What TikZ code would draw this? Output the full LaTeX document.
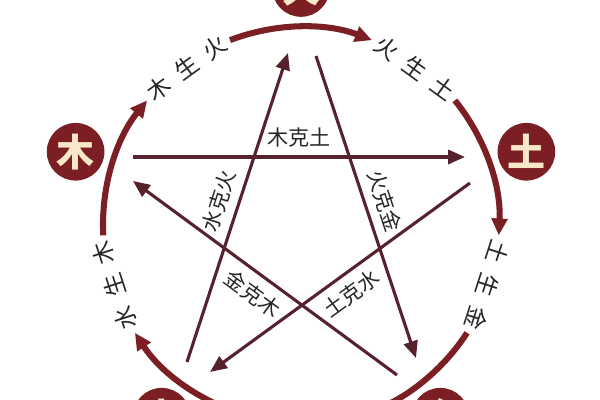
\documentclass[tikz,border=0pt]{standalone}
\usepackage{fontspec}
\newfontfamily\cjk{Noto Sans CJK SC}
\usetikzlibrary{arrows.meta}
\definecolor{wxred}{HTML}{7B1F24}
\definecolor{wxcream}{HTML}{F7E8C9}
\definecolor{wxline}{HTML}{56222E}
\definecolor{wxtext}{HTML}{262626}
\newcommand{\spread}[3]{#1\hspace{8pt}#2\hspace{8pt}#3}

\begin{document}
\begin{tikzpicture}[x=0.025cm, y=0.025cm,
    element/.style={circle, fill=wxred, minimum size=41pt, inner sep=0pt,
      text=wxcream, font=\cjk\bfseries\fontsize{27}{27}\selectfont},
    shengarrow/.style={draw=wxred, line width=4.3pt, -{Triangle[length=12pt,width=11pt]}},
    kearrow/.style={draw=wxline, line width=2.2pt, -{Triangle[length=12pt,width=10pt]}},
    shenglabel/.style={text=wxtext, font=\cjk\fontsize{16.5}{16.5}\selectfont},
    kelabel/.style={text=wxtext, inner sep=3pt, font=\cjk\fontsize{15}{15}\selectfont}]
  \useasboundingbox (-301,-175) rectangle (299,225);
  \clip (-301,-175) rectangle (299,225);
  \fill[white] (-301,-175) rectangle (299,225);

  % the five elements
  \node[element] (huo) at (90:237) {火};
  \node[element] (tu) at (18:237) {土};
  \node[element] (jin) at (306:237) {金};
  \node[element] (shui) at (234:237) {水};
  \node[element] (mu) at (162:237) {木};

  % generating cycle, clockwise
  \draw[shengarrow] (183:198) arc[start angle=183, end angle=141, radius=198];
  \draw[shengarrow] (111:198) arc[start angle=111, end angle=69, radius=198];
  \draw[shengarrow] (39:198) arc[start angle=39, end angle=-3, radius=198];
  \draw[shengarrow] (327:198) arc[start angle=327, end angle=285, radius=198];
  \draw[shengarrow] (255:198) arc[start angle=255, end angle=213, radius=198];
  \node[shenglabel, rotate=36] (musheng) at (126:194) {\spread{木}{生}{火}};
  \node[shenglabel, rotate=-36] (huosheng) at (54:194) {\spread{火}{生}{土}};
  \node[shenglabel, rotate=-108] (tusheng) at (-18:196) {\spread{土}{生}{金}};
  \node[shenglabel, rotate=108] (shuisheng) at (198:196) {\spread{水}{生}{木}};

  % controlling cycle (star)
  \coordinate (muOut) at (-168,68);
  \coordinate (tuIn) at (164,68);
  \coordinate (tuOut) at (169,42);
  \coordinate (shuiIn) at (-91,-147);
  \coordinate (shuiOut) at (-114,-137);
  \coordinate (huoIn) at (-13,172);
  \coordinate (huoOut) at (15,169);
  \coordinate (jinIn) at (115,-133);
  \coordinate (jinOut) at (96,-150);
  \coordinate (muIn) at (-168,44);

  \draw[kearrow] (muOut) -- node[kelabel, above=3pt] (muke) {木克土} (tuIn);
  \draw[kearrow] (tuOut) -- node[kelabel, sloped, below=3pt] (tuke) {土克水} (shuiIn);
  \draw[kearrow] (shuiOut) -- node[kelabel, sloped, above=3pt] (shuike) {水克火} (huoIn);
  \draw[kearrow] (huoOut) -- node[kelabel, sloped, above=3pt] (huoke) {火克金} (jinIn);
  \draw[kearrow] (jinOut) -- node[kelabel, sloped, below=3pt] (jinke) {金克木} (muIn);
\end{tikzpicture}
\end{document}
